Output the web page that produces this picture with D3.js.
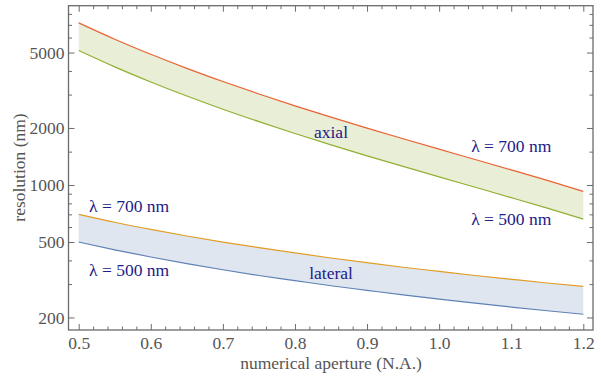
<!DOCTYPE html>
<html><head><meta charset="utf-8">
<script src="https://cdn.jsdelivr.net/npm/d3@7"></script>
<style>
html,body{margin:0;padding:0;background:#fff;}
svg text{font-family:"Liberation Serif","Times New Roman",serif;}
</style></head>
<body><svg id="c" width="601" height="377"></svg>
<script>
// numerical aperture sample points
const na = [0.50,0.55,0.60,0.65,0.70,0.75,0.80,0.85,0.90,0.95,1.00,1.05,1.10,1.15,1.20];
// axial resolution (nm)
const axial500 = [5125,4200,3496,2947,2511,2159,1869,1628,1425,1253,1103,973,858,755,661];
const axial700 = [7175,5880,4894,4126,3516,3022,2617,2280,1996,1754,1545,1363,1202,1058,925];
// lateral resolution (nm)
const lateral500 = [500,455,417,385,357,333,313,294,278,263,250,238,227,217,208];
const lateral700 = [700,636,583,538,500,467,438,412,389,368,350,333,318,304,292];
// ticks
const yMajor = [200,500,1000,2000,5000];
const yMinor = [300,400,600,700,800,900,1500,3000,4000,6000,7000,8000];
const xMajor = [0.5,0.6,0.7,0.8,0.9,1.0,1.1,1.2];
const xMinor = d3.range(0,36).map(i=>+(0.5+i*0.02).toFixed(2)).filter(v=>v<=1.2 && Math.abs(v*10-Math.round(v*10))>1e-6);
// annotations [text, NA, resolution]
const notes = [
  ["λ = 700 nm",0.570,720],
  ["λ = 500 nm",0.570,331],
  ["lateral",0.850,319],
  ["axial",0.850,1770],
  ["λ = 700 nm",1.100,1493],
  ["λ = 500 nm",1.100,615]
];

const svg = d3.select("#c");
const L=68.5, R=593, T=5.7, B=330;
const x = d3.scaleLinear().domain([0.5,1.2]).range([78.7,583.3]);
const y = d3.scaleLog().domain([1000,10000]).range([185,-4.5]);

const C = {blue:"#5E81B5", orange:"#E19C24", green:"#8FB032", red:"#EB6235"};
const frameCol="#6b6b6b", textCol="#555555", noteCol="#1d2088";

const curve = d3.curveMonotoneX;
function band(lo,hi,col){
  const pts = na.map((v,i)=>({x:v,lo:lo[i],hi:hi[i]}));
  svg.append("path").datum(pts)
    .attr("fill",col).attr("fill-opacity",0.2).attr("stroke","none")
    .attr("d",d3.area().x(d=>x(d.x)).y0(d=>y(d.lo)).y1(d=>y(d.hi)).curve(curve));
}
function line(vals,col){
  svg.append("path").datum(na.map((v,i)=>[v,vals[i]]))
    .attr("fill","none").attr("stroke",col).attr("stroke-width",1.2)
    .attr("d",d3.line().x(d=>x(d[0])).y(d=>y(d[1])).curve(curve));
}
band(axial500,axial700,C.green);
band(lateral500,lateral700,C.blue);
line(lateral500,C.blue);
line(lateral700,C.orange);
line(axial500,C.green);
line(axial700,C.red);

// frame
svg.append("rect").attr("x",L).attr("y",T).attr("width",R-L).attr("height",B-T)
  .attr("fill","none").attr("stroke",frameCol).attr("stroke-width",1.3);

const fs = "17.5px";
function styleAxis(g){
  g.select(".domain").remove();
  g.selectAll(".tick line").attr("stroke",frameCol).attr("stroke-width",1);
  g.selectAll(".tick text").attr("fill",textCol).style("font-size",fs);
}
// left
svg.append("g").attr("transform",`translate(${L},0)`)
  .call(d3.axisLeft(y).tickValues(yMajor).tickFormat(d3.format("d")).tickSize(-6).tickPadding(4)).call(styleAxis);
svg.append("g").attr("transform",`translate(${L},0)`)
  .call(d3.axisLeft(y).tickValues(yMinor).tickFormat("").tickSize(-3.5)).call(styleAxis);
// right
svg.append("g").attr("transform",`translate(${R},0)`)
  .call(d3.axisRight(y).tickValues(yMajor).tickFormat("").tickSize(-6)).call(styleAxis);
svg.append("g").attr("transform",`translate(${R},0)`)
  .call(d3.axisRight(y).tickValues(yMinor).tickFormat("").tickSize(-3.5)).call(styleAxis);
// bottom
svg.append("g").attr("transform",`translate(0,${B})`)
  .call(d3.axisBottom(x).tickValues(xMajor).tickFormat(d3.format(".1f")).tickSize(-6).tickPadding(6.5)).call(styleAxis);
svg.append("g").attr("transform",`translate(0,${B})`)
  .call(d3.axisBottom(x).tickValues(xMinor).tickFormat("").tickSize(-3.5)).call(styleAxis);
// top
svg.append("g").attr("transform",`translate(0,${T})`)
  .call(d3.axisTop(x).tickValues(xMajor).tickFormat("").tickSize(-6)).call(styleAxis);
svg.append("g").attr("transform",`translate(0,${T})`)
  .call(d3.axisTop(x).tickValues(xMinor).tickFormat("").tickSize(-3.5)).call(styleAxis);

// axis titles
svg.append("text").attr("x",331).attr("y",369).attr("text-anchor","middle")
  .attr("fill",textCol).style("font-size",fs).text("numerical aperture (N.A.)");
svg.append("text").attr("transform","translate(24.5,167.5) rotate(-90)").attr("text-anchor","middle")
  .attr("fill",textCol).style("font-size",fs).text("resolution (nm)");

// annotations
svg.selectAll("text.note").data(notes).enter().append("text").attr("class","note")
  .attr("x",d=>x(d[1])).attr("y",d=>y(d[2])).attr("text-anchor","middle")
  .attr("fill",noteCol).style("font-size",fs).text(d=>d[0]);
</script></body></html>
